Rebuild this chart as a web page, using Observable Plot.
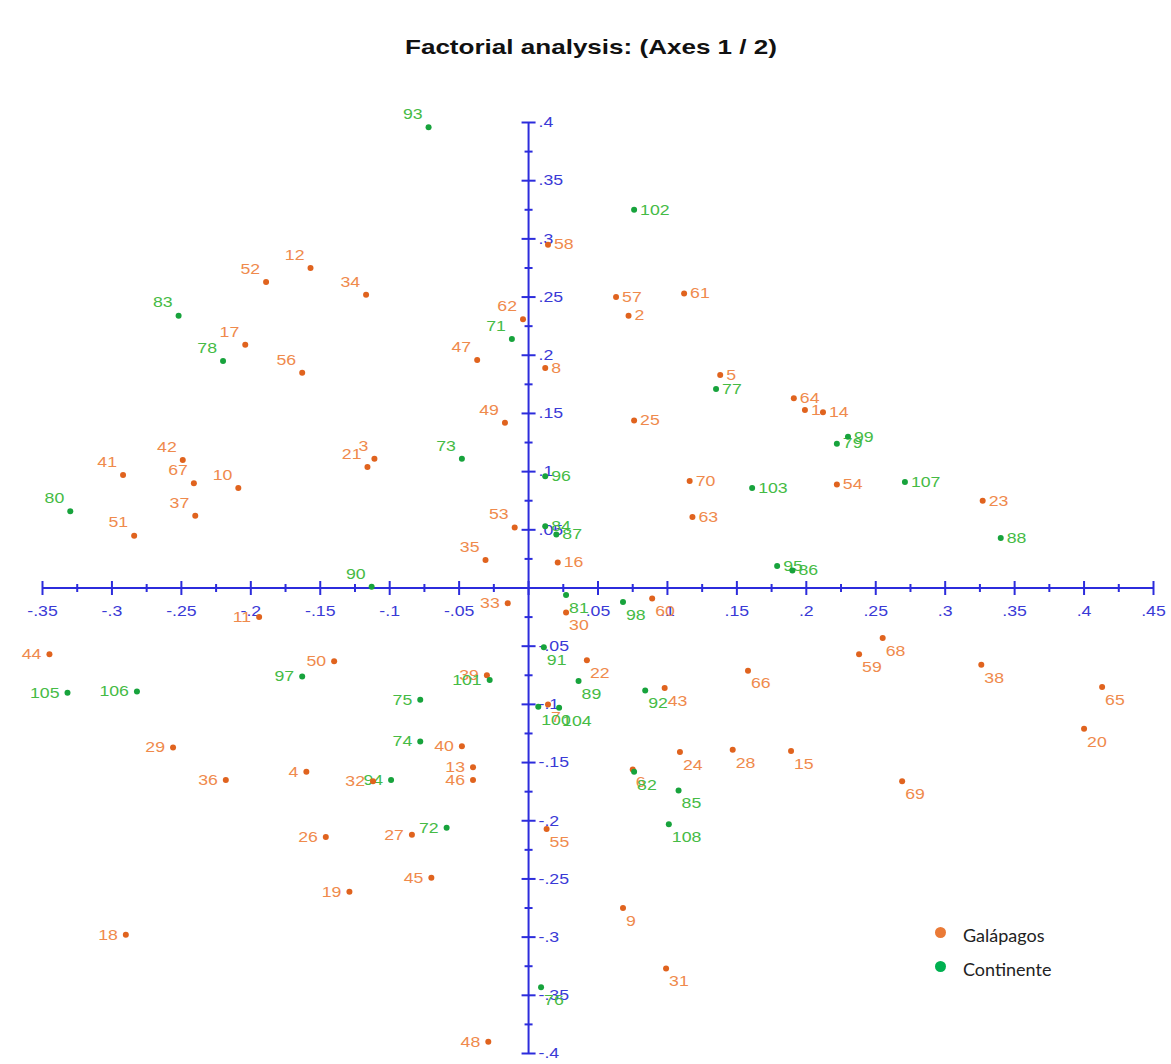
<!DOCTYPE html>
<html>
<head>
<meta charset="utf-8">
<script src="https://cdn.jsdelivr.net/npm/d3@7"></script>
<script src="https://cdn.jsdelivr.net/npm/@observablehq/plot@0.6"></script>
<style>
  html, body { margin: 0; padding: 0; background: #fff; }
  #wrap { position: relative; width: 1171px; height: 1064px; }
  #title { height: 80px; width: 1171px; box-sizing: border-box; padding-top: 35px; text-align: center;
           font: bold 21px "Liberation Sans", Arial, sans-serif; color: #111; padding-left: 10px; }
  #title span { display: inline-block; transform: scaleX(1.24); }
  #legend { position: absolute; left: 935px; top: 918px; font: 18px Lato, "Open Sans", sans-serif; color: #222; }
  #legend div { display: flex; align-items: center; height: 34px; }
  #legend span.sw { display: inline-block; width: 11px; height: 11px; border-radius: 50%; margin-right: 17px; position: relative; top: -3px; }
</style>
</head>
<body>
<div id="wrap">
  <div id="title"><span>Factorial analysis: (Axes 1 / 2)</span></div>
  <div id="chart"></div>
  <div id="legend"></div>
</div>
<script>
// ---- data (factor coordinates) ----
const ids = [
  1, 2, 3, 4, 5, 6, 7, 8, 9, 10,
  11, 12, 13, 14, 15, 16, 17, 18, 19, 20,
  21, 22, 23, 24, 25, 26, 27, 28, 29, 30,
  31, 32, 33, 34, 35, 36, 37, 38, 39, 40,
  41, 42, 43, 44, 45, 46, 47, 48, 49, 50,
  51, 52, 53, 54, 55, 56, 57, 58, 59, 60,
  61, 62, 63, 64, 65, 66, 67, 68, 69, 70,
  71, 72, 73, 74, 75, 76, 77, 78, 79, 80,
  81, 82, 83, 84, 85, 86, 87, 88, 89, 90,
  91, 92, 93, 94, 95, 96, 97, 98, 99, 100,
  101, 102, 103, 104, 105, 106, 107, 108
];
const axis1 = [
  0.199, 0.072, -0.111, -0.160, 0.138, 0.075, 0.014, 0.012, 0.068, -0.209,
  -0.194, -0.157, -0.040, 0.212, 0.189, 0.021, -0.204, -0.290, -0.129, 0.400,
  -0.116, 0.042, 0.327, 0.109, 0.076, -0.146, -0.084, 0.147, -0.256, 0.027,
  0.099, -0.112, -0.015, -0.117, -0.031, -0.218, -0.240, 0.326, -0.030, -0.048,
  -0.292, -0.249, 0.098, -0.345, -0.070, -0.040, -0.037, -0.029, -0.017, -0.140,
  -0.284, -0.189, -0.010, 0.222, 0.013, -0.163, 0.063, 0.014, 0.238, 0.089,
  0.112, -0.004, 0.118, 0.191, 0.413, 0.158, -0.241, 0.255, 0.269, 0.116,
  -0.012, -0.059, -0.048, -0.078, -0.078, 0.009, 0.135, -0.220, 0.222, -0.330,
  0.027, 0.076, -0.252, 0.012, 0.108, 0.190, 0.020, 0.340, 0.036, -0.113,
  0.011, 0.084, -0.072, -0.099, 0.179, 0.012, -0.163, 0.068, 0.230, 0.007,
  -0.028, 0.076, 0.161, 0.022, -0.332, -0.282, 0.271, 0.101
];
const axis2 = [
  0.153, 0.234, 0.111, -0.158, 0.183, -0.156, -0.100, 0.189, -0.275, 0.086,
  -0.025, 0.275, -0.154, 0.151, -0.140, 0.022, 0.209, -0.298, -0.261, -0.121,
  0.104, -0.062, 0.075, -0.141, 0.144, -0.214, -0.212, -0.139, -0.137, -0.021,
  -0.327, -0.166, -0.013, 0.252, 0.024, -0.165, 0.062, -0.066, -0.075, -0.136,
  0.097, 0.110, -0.086, -0.057, -0.249, -0.165, 0.196, -0.390, 0.142, -0.063,
  0.045, 0.263, 0.052, 0.089, -0.207, 0.185, 0.250, 0.295, -0.057, -0.009,
  0.253, 0.231, 0.061, 0.163, -0.085, -0.071, 0.090, -0.043, -0.166, 0.092,
  0.214, -0.206, 0.111, -0.132, -0.096, -0.343, 0.171, 0.195, 0.124, 0.066,
  -0.006, -0.158, 0.234, 0.053, -0.174, 0.015, 0.046, 0.043, -0.080, 0.001,
  -0.051, -0.088, 0.396, -0.165, 0.019, 0.096, -0.076, -0.012, 0.130, -0.102,
  -0.079, 0.325, 0.086, -0.103, -0.090, -0.089, 0.091, -0.203
];
const groupNames = ["Galápagos", "Continente"];
const lastGalapagosId = 70; // ids 1–70 Galápagos, 71–108 Continente

const xTicks = [-0.35, -0.3, -0.25, -0.2, -0.15, -0.1, -0.05, 0, 0.05, 0.1, 0.15, 0.2, 0.25, 0.3, 0.35, 0.4, 0.45];
const yTicks = [-0.4, -0.35, -0.3, -0.25, -0.2, -0.15, -0.1, -0.05, 0, 0.05, 0.1, 0.15, 0.2, 0.25, 0.3, 0.35, 0.4];
const xTickLabels = ["-.35", "-.3", "-.25", "-.2", "-.15", "-.1", "-.05", "", ".05", ".1", ".15", ".2", ".25", ".3", ".35", ".4", ".45"];
const yTickLabels = ["-.4", "-.35", "-.3", "-.25", "-.2", "-.15", "-.1", "-.05", "", ".05", ".1", ".15", ".2", ".25", ".3", ".35", ".4"];

// ---- styles ----
const BLUE = "#2c2cdc";
const BLUE_TXT = "#3a3ad6";
const dotColor = {"Galápagos": "#e0631e", "Continente": "#17a33c"};
const lblColor = {"Galápagos": "#ef8a4c", "Continente": "#45bb45"};
const legendColor = {"Galápagos": "#ea7a36", "Continente": "#00b050"};
const TEXT_STRETCH = 1.18; // reference text is horizontally stretched

const rows = ids.map((id, i) => ({
  id, x: axis1[i], y: axis2[i],
  group: id <= lastGalapagosId ? groupNames[0] : groupNames[1]
}));
const minorX = xTicks.slice(1).map((t, i) => (t + xTicks[i]) / 2);
const minorY = yTicks.slice(1).map((t, i) => (t + yTicks[i]) / 2);

const vLine = {draw(ctx, size) { const h = Math.sqrt(size / Math.PI); ctx.moveTo(0, -h); ctx.lineTo(0, h); }};
const hLine = {draw(ctx, size) { const h = Math.sqrt(size / Math.PI); ctx.moveTo(-h, 0); ctx.lineTo(h, 0); }};

const UL = rows.filter(d => d.x < 0 && d.y >= 0);
const LL = rows.filter(d => d.x < 0 && d.y < 0);
const UR = rows.filter(d => d.x >= 0 && d.y >= 0);
const LR = rows.filter(d => d.x >= 0 && d.y < 0);
const lab = (data, opts) => Plot.text(data, {x: "x", y: "y", text: d => String(d.id),
  fill: d => lblColor[d.group], fontSize: 15, ...opts});

const chart = Plot.plot({
  width: 1171, height: 984,
  marginTop: 42, marginBottom: 11, marginLeft: 42, marginRight: 18,
  x: {domain: [-0.35, 0.45], axis: null},
  y: {domain: [-0.4, 0.4], axis: null},
  color: {type: "identity"},
  style: {fontFamily: "'Liberation Sans', Arial, sans-serif", background: "white", overflow: "visible"},
  marks: [
    Plot.ruleY([0], {stroke: BLUE, strokeWidth: 2}),
    Plot.ruleX([0], {stroke: BLUE, strokeWidth: 2}),
    Plot.dot(xTicks, {x: d => d, y: () => 0, symbol: vLine, r: 7, stroke: BLUE, strokeWidth: 2, fill: "none"}),
    Plot.dot(minorX, {x: d => d, y: () => 0, symbol: vLine, r: 4, stroke: BLUE, strokeWidth: 2, fill: "none"}),
    Plot.dot(yTicks, {x: () => 0, y: d => d, symbol: hLine, r: 7, stroke: BLUE, strokeWidth: 2, fill: "none"}),
    Plot.dot(minorY, {x: () => 0, y: d => d, symbol: hLine, r: 4, stroke: BLUE, strokeWidth: 2, fill: "none"}),
    Plot.text(xTicks, {x: d => d, y: () => 0, text: (d, i) => xTickLabels[i], dy: 23, fill: BLUE_TXT, fontSize: 15}),
    Plot.text(yTicks, {x: () => 0, y: d => d, text: (d, i) => yTickLabels[i], dx: 10, textAnchor: "start", fill: BLUE_TXT, fontSize: 15}),
    lab(UL, {textAnchor: "end", dx: -6, dy: -13}),
    lab(LL, {textAnchor: "end", dx: -8, dy: 0}),
    lab(UR, {textAnchor: "start", dx: 6, dy: 0}),
    lab(LR, {textAnchor: "start", dx: 3, dy: 13}),
    Plot.dot(rows, {x: "x", y: "y", r: 3, fill: d => dotColor[d.group], stroke: "none"})
  ]
});
// stretch texts horizontally about their anchor, as in the reference
d3.select(chart).selectAll("text").each(function() {
  const t = this.getAttribute("transform") || "";
  this.setAttribute("transform", `${t} scale(${TEXT_STRETCH},1)`);
});
document.getElementById("chart").appendChild(chart);

const legend = document.getElementById("legend");
for (const g of groupNames) {
  const row = document.createElement("div");
  row.innerHTML = `<span class="sw" style="background:${legendColor[g]}"></span><span>${g}</span>`;
  legend.appendChild(row);
}
</script>
</body>
</html>
